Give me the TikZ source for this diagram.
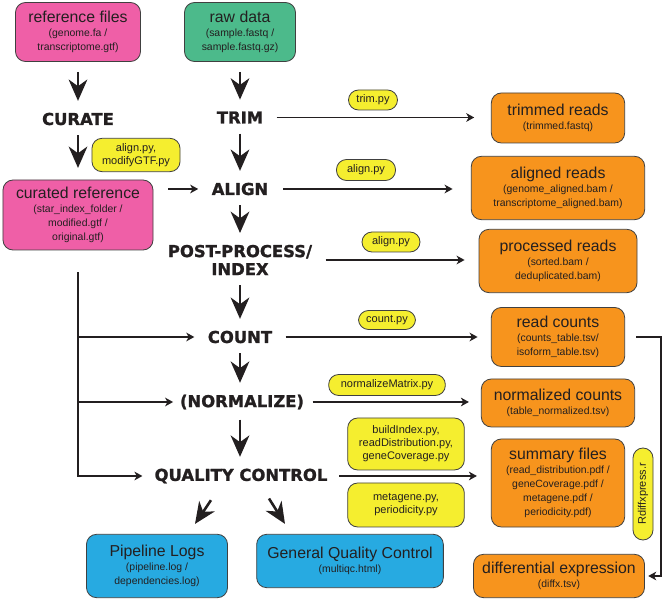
\documentclass[tikz,border=0pt]{standalone}
\usepackage{fontspec}
\setmainfont{Liberation Sans}
\newfontfamily\stagefont{DejaVu Sans}[BoldFeatures={FakeBold=1.3}]
\usetikzlibrary{arrows.meta,positioning}
\definecolor{refpink}{HTML}{EF5FA7}
\definecolor{rawgreen}{HTML}{4CBA8B}
\definecolor{outorange}{HTML}{F7941D}
\definecolor{logblue}{HTML}{27AAE1}
\definecolor{scriptyellow}{HTML}{F5EE2F}
\definecolor{inkdark}{HTML}{231F20}
\newcommand{\boxtitle}[1]{{\fontsize{13.5}{15}\selectfont #1}}

\begin{document}
\begin{tikzpicture}[
  x=0.03cm, y=-0.03cm,
  font=\fontsize{8.9}{12}\selectfont,
  filebox/.style={draw=black!75, line width=0.7pt, rounded corners=3mm,
    align=center, inner sep=2pt, text=inkdark},
  reffile/.style={filebox, fill=refpink},
  rawfile/.style={filebox, fill=rawgreen},
  outfile/.style={filebox, fill=outorange},
  logfile/.style={filebox, fill=logblue},
  script/.style={draw=black!75, line width=0.7pt, rounded corners=3mm,
    fill=scriptyellow, align=center, inner sep=1pt, text=inkdark,
    font=\fontsize{9.4}{11.2}\selectfont},
  stage/.style={font=\stagefont\bfseries\fontsize{14}{15.4}\selectfont,
    align=center, inner sep=0pt, text=inkdark},
  bigflow/.style={-{Stealth[length=6.4mm,width=5.6mm,inset=2mm]},
    line width=2.2pt, draw=inkdark, shorten <=3mm, shorten >=3.5mm},
  flow/.style={-{Stealth[length=2.4mm,width=2.6mm,inset=0.7mm]},
    line width=1.4pt, draw=inkdark},
  rail/.style={line width=1.4pt, draw=inkdark}
]
  \useasboundingbox (0,0) rectangle (664,601);

  \node[reffile, minimum width=3.75cm, minimum height=1.77cm] (reffiles) at (78,32)
    {\boxtitle{reference files}\\(genome.fa /\\transcriptome.gtf)};
  \node[rawfile, minimum width=3.33cm, minimum height=1.77cm] (rawdata) at (240,32)
    {\boxtitle{raw data}\\(sample.fastq /\\sample.fastq.gz)};
  \node[reffile, minimum width=4.5cm, minimum height=2.1cm] (curated) at (78,215)
    {\boxtitle{curated reference}\\(star\_index\_folder /\\modified.gtf /\\original.gtf)};

  \node[stage] (curate) at (78,119) {CURATE};
  \node[stage] (trim) at (240,117.5) {TRIM};
  \node[stage] (align) at (240,189) {ALIGN};
  \node[stage] (post) at (240,260) {POST-PROCESS/\\INDEX};
  \node[stage] (count) at (240,337) {COUNT};
  \node[stage] (norm) at (242,402) {(NORMALIZE)};
  \node[stage] (qc) at (241,476) {QUALITY CONTROL};

  \node[outfile, minimum width=4.0cm, minimum height=1.5cm] (trimmed) at (558,118)
    {\boxtitle{trimmed reads}\\(trimmed.fastq)};
  \node[outfile, minimum width=5.2cm, minimum height=1.9cm] (aligned) at (558,188)
    {\boxtitle{aligned reads}\\(genome\_aligned.bam /\\transcriptome\_aligned.bam)};
  \node[outfile, minimum width=4.74cm, minimum height=1.9cm] (processed) at (558,261)
    {\boxtitle{processed reads}\\(sorted.bam /\\deduplicated.bam)};
  \node[outfile, minimum width=4.0cm, minimum height=1.77cm] (counts) at (558,337)
    {\boxtitle{read counts}\\(counts\_table.tsv/\\isoform\_table.tsv)};
  \node[outfile, minimum width=4.6cm, minimum height=1.44cm] (normalized) at (558,403)
    {\boxtitle{normalized counts}\\(table\_normalized.tsv)};
  \node[outfile, minimum width=4.0cm, minimum height=2.64cm] (summary) at (558,483)
    {\boxtitle{summary files}\\(read\_distribution.pdf /\\geneCoverage.pdf /\\metagene.pdf /\\periodicity.pdf)};
  \node[outfile, minimum width=5.13cm, minimum height=1.3cm] (diffx) at (559,576)
    {\boxtitle{differential expression}\\(diffx.tsv)};

  \node[logfile, minimum width=4.23cm, minimum height=1.9cm] (logs) at (157,566)
    {\boxtitle{Pipeline Logs}\\(pipeline.log /\\dependencies.log)};
  \node[logfile, minimum width=5.6cm, minimum height=1.6cm] (genqc) at (350,561)
    {\boxtitle{General Quality Control}\\(multiqc.html)};

  \node[script, minimum width=2.64cm, minimum height=1.0cm] (modgtf) at (136,155)
    {align.py,\\modifyGTF.py};
  \node[script, minimum width=1.47cm, minimum height=0.6cm] (trimpy) at (373,100) {trim.py};
  \node[script, minimum width=1.77cm, minimum height=0.63cm] (alignpy) at (366,170) {align.py};
  \node[script, minimum width=1.74cm, minimum height=0.6cm] (postpy) at (391,242) {align.py};
  \node[script, minimum width=1.71cm, minimum height=0.57cm] (countpy) at (387,320) {count.py};
  \node[script, minimum width=3.5cm, minimum height=0.63cm] (normpy) at (387,385) {normalizeMatrix.py};
  \node[script, minimum width=3.5cm, minimum height=1.56cm] (buildpy) at (406,444)
    {buildIndex.py,\\readDistribution.py,\\geneCoverage.py};
  \node[script, minimum width=3.5cm, minimum height=1.32cm] (metapy) at (406,505)
    {metagene.py,\\periodicity.py};
  \node[script, rotate=90, minimum width=2.76cm, minimum height=0.6cm] (rdiff) at (643,494)
    {Rdiffxpress.r};

  \draw[bigflow] (reffiles) -- (curate);
  \draw[bigflow] (curate) -- (curated);
  \draw[bigflow] (rawdata) -- (trim);
  \draw[bigflow] (trim) -- (align);
  \draw[bigflow] (align) -- (post);
  \draw[bigflow] (post) -- (count);
  \draw[bigflow] (count) -- (norm.north -| count.south);
  \draw[bigflow] (norm.south -| count.south) -- (qc.north -| count.south);
  \draw[bigflow, shorten <=0pt, shorten >=0pt] ([xshift=-9mm,yshift=-5mm]qc.south)
    -- ([xshift=11.4mm,yshift=3mm]logs.north);
  \draw[bigflow, shorten <=0pt, shorten >=0pt] ([xshift=8.4mm,yshift=-4.5mm]qc.south)
    -- ([xshift=-19.5mm,yshift=3mm]genqc.north);

  \draw[flow, shorten <=4.5mm, shorten >=4mm] (curated.east |- align.west) -- (align.west);
  \draw[flow, shorten <=4mm, shorten >=5mm] (trim.east) -- (trim.east -| trimmed.west);
  \draw[flow, shorten <=4.5mm, shorten >=5.5mm] (align.east) -- (align.east -| aligned.west);
  \draw[flow, shorten <=4mm, shorten >=4.2mm] (post.east) -- (post.east -| processed.west);
  \draw[flow, shorten <=4mm, shorten >=4mm] (count.east) -- (count.east -| counts.west);
  \draw[flow, shorten <=2.5mm, shorten >=3.6mm] (norm.east) -- (norm.east -| normalized.west);
  \draw[flow, shorten <=3.5mm, shorten >=4.2mm] (qc.east) -- (qc.east -| summary.west);

  \draw[flow, shorten >=3.6mm] ([yshift=-6.6mm]curated.south) |- (qc.west);
  \draw[flow, shorten >=4mm] (curated.south |- count.west) -- (count.west);
  \draw[flow, shorten >=2mm] (curated.south |- norm.west) -- (norm.west);

  \coordinate (rcorner) at (661,337);
  \draw[flow] ([xshift=3.3mm]counts.east |- rcorner) -- (rcorner)
    |- ([xshift=1mm]diffx.east);
\end{tikzpicture}
\end{document}
